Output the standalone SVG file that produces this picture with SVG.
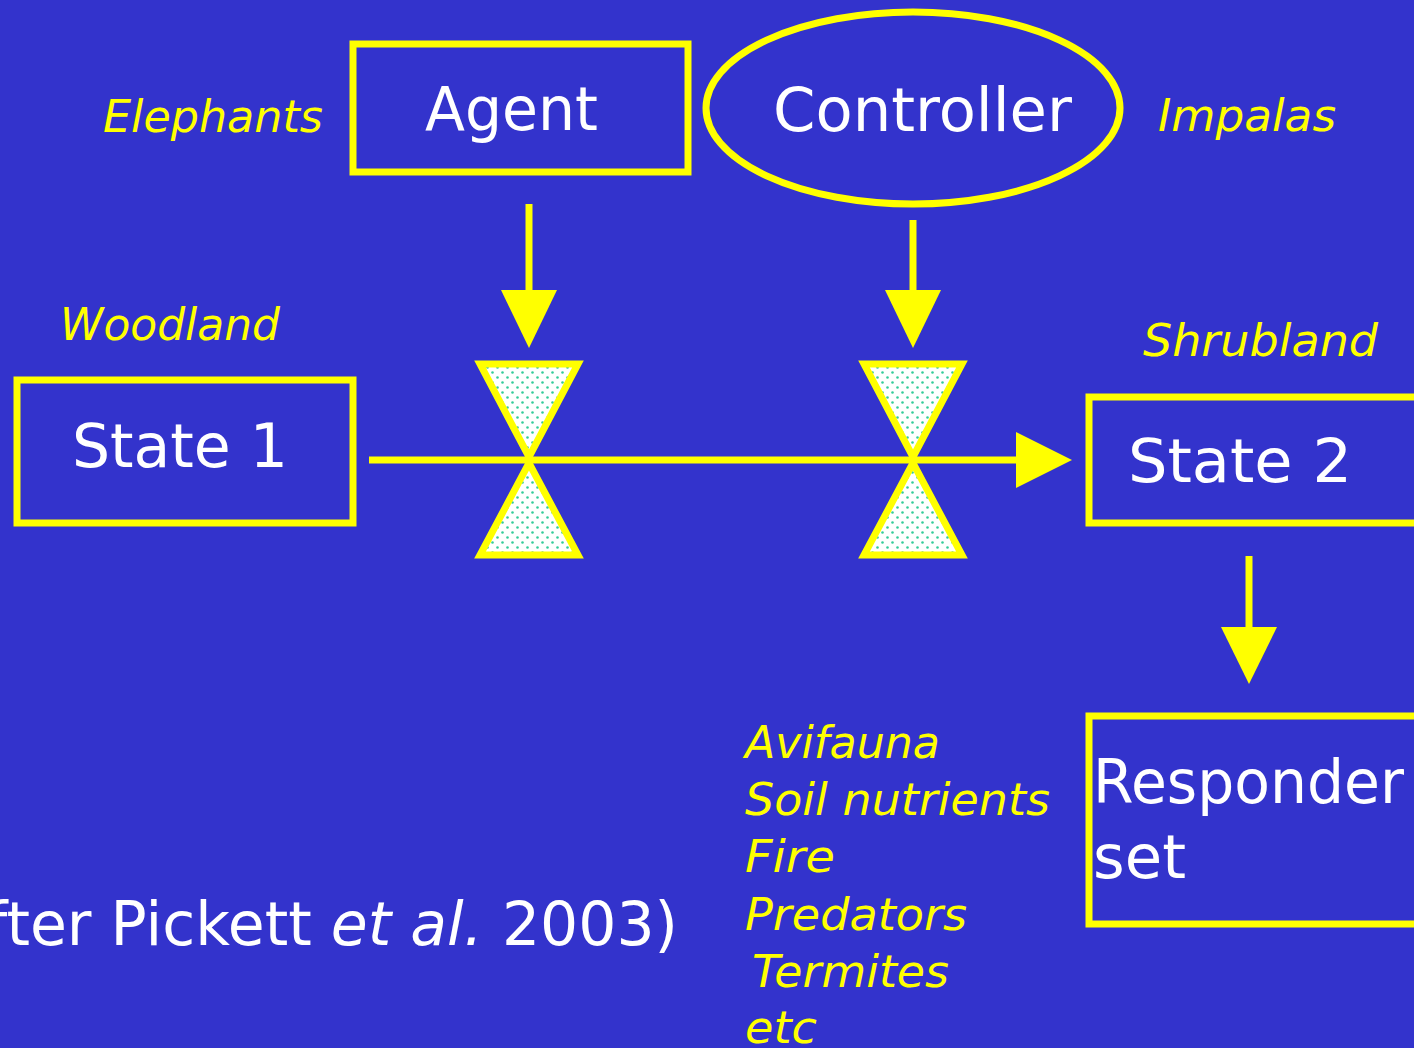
<svg xmlns="http://www.w3.org/2000/svg" width="1414" height="1048" viewBox="0 0 1414 1048">
<style>
.box{fill:none;stroke:#FFFF00;stroke-width:7}
.w{fill:#FFFFFF;font-family:"Comic Sans MS","DejaVu Sans",sans-serif;font-size:60px}
.y{fill:#FFFF00;font-family:"Comic Sans MS","DejaVu Sans",sans-serif;font-size:44px;font-style:italic}
.ln{stroke:#FFFF00;stroke-width:7;fill:none}
.hd{fill:#FFFF00}
.valve{fill:url(#dots);stroke:#FFFF00;stroke-width:7;stroke-linejoin:miter}
</style>
<defs>
<pattern id="dots" width="10" height="10" patternUnits="userSpaceOnUse">
<rect width="10" height="10" fill="#FFFFFF"/>
<circle cx="2.5" cy="2.5" r="1.3" fill="#33CC99"/>
<circle cx="7.5" cy="7.5" r="1.3" fill="#33CC99"/>
</pattern>
</defs>
<rect width="1414" height="1048" fill="#3333CC"/>

<g id="agent">
<rect class="box" x="353" y="44" width="335" height="128"/>
<text class="w" x="425" y="130" textLength="173" lengthAdjust="spacingAndGlyphs">Agent</text>
</g>
<g id="controller">
<ellipse class="box" cx="913" cy="108" rx="207" ry="96"/>
<text class="w" x="773" y="131" textLength="299" lengthAdjust="spacingAndGlyphs">Controller</text>
</g>
<g id="state1">
<rect class="box" x="17" y="380" width="336" height="143"/>
<text class="w" x="72" y="467" textLength="216" lengthAdjust="spacingAndGlyphs">State 1</text>
</g>
<g id="state2">
<rect class="box" x="1089" y="397" width="340" height="126"/>
<text class="w" x="1128" y="482" textLength="224" lengthAdjust="spacingAndGlyphs">State 2</text>
</g>
<g id="responder">
<rect class="box" x="1089" y="716" width="340" height="208"/>
<text class="w" x="1093" y="803" textLength="311" lengthAdjust="spacingAndGlyphs">Responder</text>
<text class="w" x="1093" y="878" textLength="93" lengthAdjust="spacingAndGlyphs">set</text>
</g>
<g id="valve1">
<polygon class="valve" points="480,364 578,364 529,457"/>
<polygon class="valve" points="529,463 480,555 578,555"/>
</g>
<g id="valve2">
<polygon class="valve" points="864,364 962,364 913,457"/>
<polygon class="valve" points="913,463 864,555 962,555"/>
</g>

<g id="connectors">
<line class="ln" x1="369" y1="460" x2="1020" y2="460"/>
<polygon class="hd" points="1016,432 1072,460 1016,488"/>
<line class="ln" x1="529" y1="204" x2="529" y2="292"/>
<polygon class="hd" points="501,290 557,290 529,348"/>
<line class="ln" x1="913" y1="220" x2="913" y2="292"/>
<polygon class="hd" points="885,290 941,290 913,348"/>
<line class="ln" x1="1249" y1="556" x2="1249" y2="629"/>
<polygon class="hd" points="1221,627 1277,627 1249,684"/>
</g>

<g id="labels">
<text class="y" x="103" y="132" textLength="220" lengthAdjust="spacingAndGlyphs">Elephants</text>
<text class="y" x="1158" y="131" textLength="178" lengthAdjust="spacingAndGlyphs">Impalas</text>
<text class="y" x="60" y="340" textLength="220" lengthAdjust="spacingAndGlyphs">Woodland</text>
<text class="y" x="1143" y="356" textLength="235" lengthAdjust="spacingAndGlyphs">Shrubland</text>
<text class="y" x="745" y="758" textLength="195" lengthAdjust="spacingAndGlyphs">Avifauna</text>
<text class="y" x="745" y="815" textLength="305" lengthAdjust="spacingAndGlyphs">Soil nutrients</text>
<text class="y" x="745" y="872" textLength="90" lengthAdjust="spacingAndGlyphs">Fire</text>
<text class="y" x="745" y="930" textLength="222" lengthAdjust="spacingAndGlyphs">Predators</text>
<text class="y" x="752" y="987" textLength="197" lengthAdjust="spacingAndGlyphs">Termites</text>
<text class="y" x="745" y="1043" textLength="72" lengthAdjust="spacingAndGlyphs">etc</text>
<text class="w" x="678" y="945" text-anchor="end">(after Pickett <tspan font-style="italic">et al.</tspan> 2003)</text>
</g>
</svg>
